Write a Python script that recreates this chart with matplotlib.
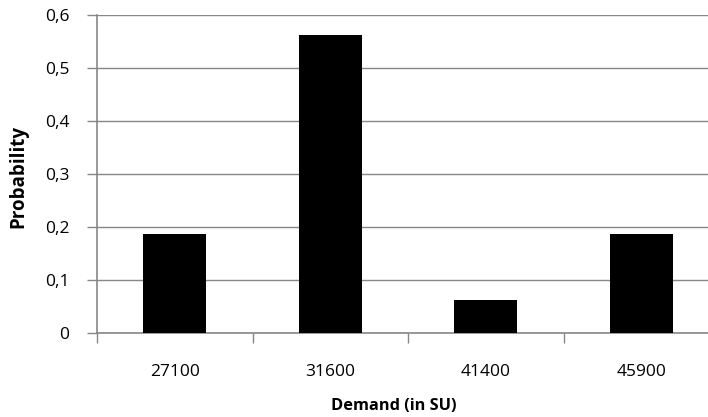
import matplotlib
matplotlib.use("Agg")
import matplotlib.pyplot as plt
from matplotlib.ticker import FixedLocator

categories = ["27100", "31600", "41400", "45900"]
probabilities = [0.1875, 0.5625, 0.0625, 0.1875]
y_ticks = [0, 0.1, 0.2, 0.3, 0.4, 0.5, 0.6]
y_tick_labels = ["0", "0,1", "0,2", "0,3", "0,4", "0,5", "0,6"]

plt.rcParams['font.family'] = ['Open Sans', 'DejaVu Sans']

W, H = 708, 417
fig = plt.figure(figsize=(W / 100, H / 100), dpi=100)
left_px, right_px, top_px, bottom_px = 97, 708, 15, 333
ax = fig.add_axes([left_px / W, 1 - bottom_px / H, (right_px - left_px) / W, (bottom_px - top_px) / H])

grid_color = "#878787"
x = list(range(len(categories)))
ax.bar(x, probabilities, width=0.405, color="black", zorder=3)

ax.set_ylim(0, 0.6)
ax.set_xlim(-0.5, -0.5 + (right_px - left_px) / 155.5)
ax.set_yticks(y_ticks)
ax.set_yticklabels(y_tick_labels)
ax.yaxis.grid(True, color=grid_color, linewidth=1.0, zorder=0)

ax.set_xticks(x)
ax.set_xticklabels(categories)
ax.xaxis.set_minor_locator(FixedLocator([i - 0.5 for i in range(len(categories) + 1)]))
ax.tick_params(axis='x', which='major', length=0, pad=22, labelsize=12.5, colors='black')
ax.tick_params(axis='x', which='minor', length=7, width=1, color=grid_color, direction='out')
ax.tick_params(axis='y', which='major', length=7, width=1, color=grid_color, pad=13, labelsize=12.5)

for s in ['top', 'right']:
    ax.spines[s].set_visible(False)
for s in ['left', 'bottom']:
    ax.spines[s].set_color(grid_color)
    ax.spines[s].set_linewidth(1.2)

fig.text(394 / W, 1 - 406 / H, "Demand (in SU)", ha='center', va='center', fontsize=11.8, fontweight='bold')
fig.text(18 / W, 1 - 177 / H, "Probability", ha='center', va='center', rotation=90, fontsize=13.5, fontweight='bold')

fig.savefig("out.png", dpi=100)
